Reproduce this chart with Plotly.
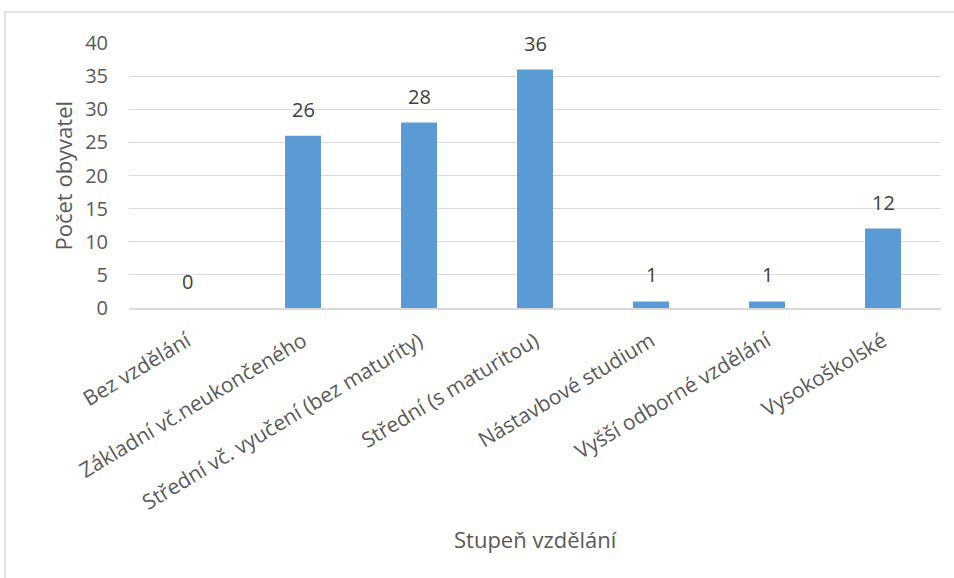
import plotly.graph_objects as go

categories = ["Bez vzdělání", "Základní vč.neukončeného", "Střední vč. vyučení (bez maturity)",
              "Střední (s maturitou)", "Nástavbové studium", "Vyšší odborné vzdělání", "Vysokoškolské"]
values = [0, 26, 28, 36, 1, 1, 12]
y_ticks = [0, 5, 10, 15, 20, 25, 30, 35, 40]

FONT = "Open Sans"
fig = go.Figure()
fig.add_trace(go.Bar(x=categories, y=values, marker=dict(color="#5B9BD5", line=dict(width=0)),
                     hoverinfo="x+y"))

for c, v in zip(categories, values):
    fig.add_annotation(x=c, y=v, text=str(v), showarrow=False, yanchor="bottom", yshift=11,
                       font=dict(family=FONT, size=20, color="#404040"))

fig.add_annotation(x=0.5, y=-0.87, xref="paper", yref="paper", text="Stupeň vzdělání",
                   showarrow=False, xanchor="center", yanchor="middle",
                   font=dict(family=FONT, size=22, color="#595959"))
fig.add_annotation(x=-0.0825, y=0.5, xref="paper", yref="paper", text="Počet obyvatel",
                   textangle=-90, showarrow=False, xanchor="center", yanchor="middle",
                   font=dict(family=FONT, size=22, color="#595959"))

fig.add_shape(type="rect", xref="paper", yref="paper",
              x0=(5 - 129) / 812, x1=(960 - 129) / 812, y0=(308 - 590) / 265, y1=(308 - 12) / 265,
              line=dict(color="#D9D9D9", width=1.5), fillcolor="rgba(0,0,0,0)", layer="below")

fig.update_layout(
    width=954, height=578,
    margin=dict(l=129, r=13, t=43, b=270),
    paper_bgcolor="white", plot_bgcolor="white",
    bargap=0.69, showlegend=False,
    font=dict(family=FONT, color="#595959"),
)
fig.update_xaxes(showgrid=False, showline=True, linecolor="#D9D9D9", linewidth=1.5,
                 tickangle=-31, tickfont=dict(family=FONT, size=21, color="#595959"),
                 ticks="", ticklabelstandoff=11, fixedrange=True)
fig.update_yaxes(range=[0, 40], tickvals=y_ticks, showgrid=True, gridcolor="#D9D9D9", gridwidth=1,
                 zeroline=False, showline=False, ticks="", ticklabelstandoff=20,
                 tickfont=dict(family=FONT, size=20, color="#595959"), fixedrange=True)

fig.write_html("out.html", config={"displayModeBar": False},
               post_script="document.body.style.margin='0';document.body.style.overflow='hidden';")
